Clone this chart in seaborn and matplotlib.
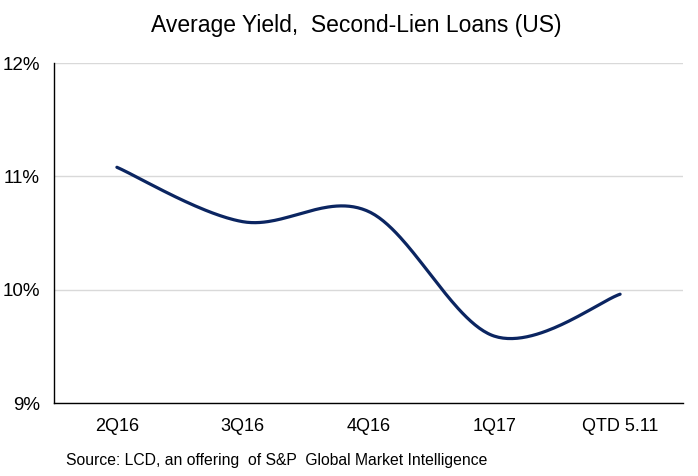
import numpy as np
import pandas as pd
import matplotlib
matplotlib.use("Agg")
import matplotlib.pyplot as plt
import seaborn as sns
from matplotlib import font_manager
from matplotlib.ticker import FixedLocator, PercentFormatter

categories = ["2Q16", "3Q16", "4Q16", "1Q17", "QTD 5.11"]
yields = [11.08, 10.60, 10.69, 9.59, 9.96]
y_ticks = [9, 10, 11, 12]
title = "Average Yield,  Second-Lien Loans (US)"
source = "Source: LCD, an offering  of S&P  Global Market Intelligence"

sns.set_theme(style="white")
names = {f.name for f in font_manager.fontManager.ttflist}
narrow = "Liberation Sans Narrow" if "Liberation Sans Narrow" in names else "Liberation Sans"
plt.rcParams["font.family"] = ["Liberation Sans", "DejaVu Sans"]

# Excel-style smoothed line (Catmull-Rom through the data points)
x = np.arange(len(yields), dtype=float)
y = np.array(yields)
px = np.concatenate([[x[0]], x, [x[-1]]])
py = np.concatenate([[y[0]], y, [y[-1]]])
cx, cy = [], []
t = np.linspace(0, 1, 60)
for i in range(1, len(px) - 2):
    p0 = np.array([px[i], py[i]])
    p3 = np.array([px[i + 1], py[i + 1]])
    p1 = p0 + (np.array([px[i + 1], py[i + 1]]) - np.array([px[i - 1], py[i - 1]])) / 6
    p2 = p3 - (np.array([px[i + 2], py[i + 2]]) - np.array([px[i], py[i]])) / 6
    b = ((1 - t) ** 3)[:, None] * p0 + (3 * (1 - t) ** 2 * t)[:, None] * p1 \
        + (3 * (1 - t) * t ** 2)[:, None] * p2 + (t ** 3)[:, None] * p3
    cx.extend(b[:, 0]); cy.extend(b[:, 1])
df = pd.DataFrame({"x": cx, "y": cy})

fig = plt.figure(figsize=(6.98, 4.76), dpi=100)
ax = fig.add_axes([54 / 698, 1 - 403 / 476, (683 - 54) / 698, (403 - 63) / 476])
sns.lineplot(data=df, x="x", y="y", ax=ax, color="#0b2561", linewidth=2.3, sort=False)

ax.set_xlim(-0.5, len(categories) - 0.5)
ax.set_ylim(y_ticks[0], y_ticks[-1])
ax.set_yticks(y_ticks)
ax.yaxis.set_major_formatter(PercentFormatter(decimals=0))
ax.xaxis.set_major_locator(FixedLocator(np.arange(len(categories) + 1) - 0.5))
ax.xaxis.set_minor_locator(FixedLocator(np.arange(len(categories))))
ax.set_xticklabels([], minor=False)
ax.set_xticklabels(categories, minor=True)
ax.tick_params(axis="x", which="major", direction="inout", length=8, width=1, color="black")
ax.tick_params(axis="x", which="minor", length=0, pad=11, labelsize=13, labelcolor="black")
ax.tick_params(axis="y", which="major", direction="out", length=4, width=1, color="black",
               pad=6, labelsize=13.5, labelcolor="black")
ax.set_xlabel("")
ax.set_ylabel("")

ax.grid(axis="y", color="#d9d9d9", linewidth=1)
ax.grid(axis="x", visible=False)
for s in ["top", "right"]:
    ax.spines[s].set_visible(False)
for s in ["left", "bottom"]:
    ax.spines[s].set_color("black")
    ax.spines[s].set_linewidth(1)
ax.set_axisbelow(True)

fig.text(356 / 698, 0.947, title, ha="center", va="center", fontsize=16.5,
         family=[narrow, "DejaVu Sans"], color="black")
fig.text(66 / 698, 1 - 461 / 476, source, ha="left", va="center", fontsize=11.3,
         family=[narrow, "DejaVu Sans"], color="black")

fig.savefig("out.png", dpi=100, facecolor="white")
